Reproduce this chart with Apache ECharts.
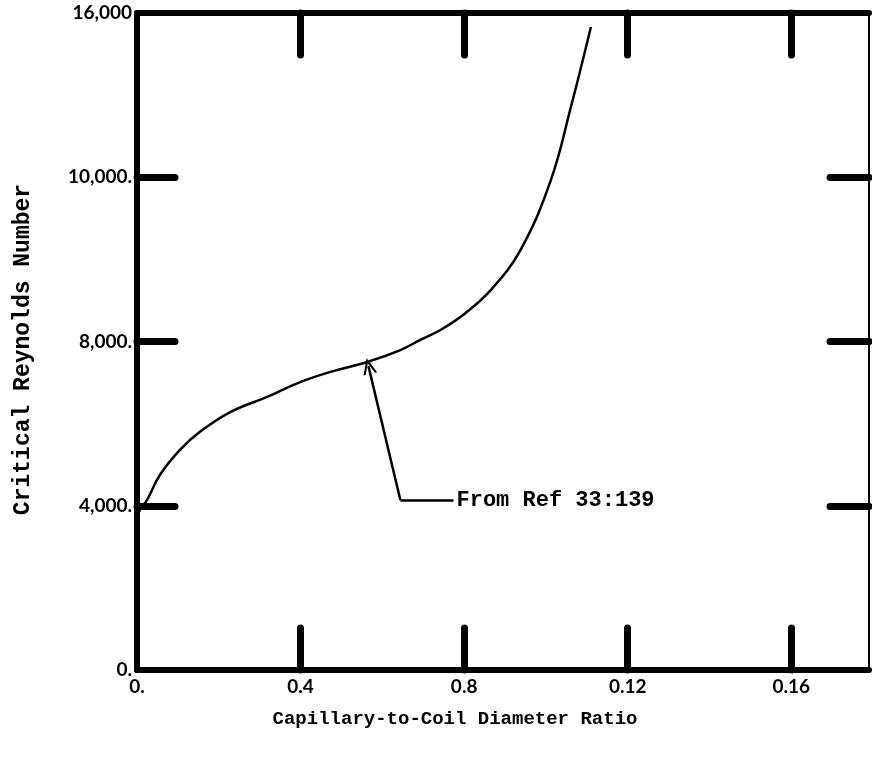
<!DOCTYPE html>
<html>
<head>
<meta charset="utf-8">
<script src="https://cdn.jsdelivr.net/npm/echarts@6/dist/echarts.min.js"></script>
<style>
html,body{margin:0;padding:0;background:#fff;}
#chart{width:872px;height:757px;}
</style>
</head>
<body>
<div id="chart"></div>
<script>
// Curve values (x = diameter ratio, y = position on the evenly spaced Reynolds scale)
var ratio = [0, 0.0005, 0.00245, 0.0056, 0.0105, 0.0154, 0.0228, 0.0318, 0.0399, 0.0473, 0.0563, 0.0644, 0.0693, 0.0742, 0.0798, 0.0865, 0.0938, 0.1012, 0.1061, 0.1110];
var reynolds = [3400, 3850, 4140, 4750, 5360, 5800, 6280, 6650, 7010, 7260, 7500, 7790, 8040, 8280, 8650, 9250, 10230, 11930, 13710, 15660];
// Tick positions and tick labels exactly as printed on the original (evenly spaced ticks)
var yTicks = [0, 4000, 8000, 12000, 16000];
var yTickLabels = ['0.', '4,000.', '8,000.', '10,000.', '16,000'];
var xTicks = [0, 0.04, 0.08, 0.12, 0.16];
var xTickLabels = ['0.', '0.4', '0.8', '0.12', '0.16'];
// Annotation: arrow tip on the curve, elbow, end of leader
var arrowTip = [0.0566, 7400];
var arrowElbow = [0.0644, 4140];
var leaderEnd = [0.0774, 4140];
var annotationText = 'From Ref 33:139';

var chart = echarts.init(document.getElementById('chart'), null, {renderer: 'canvas'});
var labelFont = {color: '#000', fontFamily: 'Lato', fontWeight: 'bold', fontSize: 19};
var mono = '"Liberation Mono", "DejaVu Sans Mono", monospace';
var tickStyle = {color: '#000', width: 7, cap: 'round'};

var curve = ratio.map(function (x, i) { return [x, reynolds[i]]; });
var xInnerTicks = xTicks.slice(1);
var yInnerTicks = yTicks.slice(1, yTicks.length - 1);

chart.setOption({
  animation: false,
  backgroundColor: '#fff',
  grid: {left: 137, right: 3, top: 13, bottom: 87, containLabel: false, outerBoundsMode: 'none'},
  xAxis: [{
    type: 'value', min: 0, max: 0.179, interval: 0.04, position: 'bottom',
    name: 'Capillary-to-Coil Diameter Ratio', nameLocation: 'middle', nameGap: 40,
    nameTextStyle: {fontFamily: mono, fontWeight: 'bold', fontSize: 19, color: '#000', padding: [0, 96, 0, 0]},
    axisLine: {onZero: false, lineStyle: {color: '#000', width: 6}},
    axisTick: {inside: true, length: 42, customValues: xInnerTicks, lineStyle: tickStyle},
    axisLabel: Object.assign({margin: 7, customValues: xTicks, formatter: function (v) {
      return xTickLabels[Math.round(v / 0.04)] || '';
    }}, labelFont),
    splitLine: {show: false}
  }, {
    type: 'value', min: 0, max: 0.179, interval: 0.04, position: 'top',
    axisLine: {onZero: false, lineStyle: {color: '#000', width: 6}},
    axisTick: {inside: true, length: 42, customValues: xInnerTicks, lineStyle: tickStyle},
    axisLabel: {show: false}, splitLine: {show: false}
  }],
  yAxis: [{
    type: 'value', min: 0, max: 16000, interval: 4000, position: 'left',
    name: 'Critical Reynolds Number', nameLocation: 'middle', nameGap: 102, nameRotate: 90,
    nameTextStyle: {fontFamily: mono, fontWeight: 'bold', fontSize: 23, color: '#000', padding: [0, 16, 0, 0]},
    axisLine: {onZero: false, lineStyle: {color: '#000', width: 6}},
    axisTick: {inside: true, length: 38, customValues: yInnerTicks, lineStyle: tickStyle},
    axisLabel: Object.assign({margin: 5, customValues: yTicks, formatter: function (v) {
      return yTickLabels[Math.round(v / 4000)] || '';
    }}, labelFont),
    splitLine: {show: false}
  }, {
    type: 'value', min: 0, max: 16000, interval: 4000, position: 'right',
    axisLine: {show: true, onZero: false, lineStyle: {color: '#000', width: 2}},
    axisTick: {inside: true, length: 39, customValues: yInnerTicks, lineStyle: tickStyle},
    axisLabel: {show: false}, splitLine: {show: false}
  }],
  series: [{
    type: 'line',
    data: curve,
    smooth: 0.4,
    showSymbol: false,
    lineStyle: {color: '#000', width: 2.5},
    markLine: {
      silent: true,
      symbol: ['none', 'none'],
      lineStyle: {color: '#000', width: 2.5, type: 'solid'},
      label: {show: false},
      data: [
        [{coord: arrowElbow, symbol: 'none'}, {coord: arrowTip, symbol: 'path://M0,10 L5,0 L10,10 L8.4,10 L5,3.2 L1.6,10 Z', symbolSize: [14, 16]}],
        [{coord: arrowElbow}, {coord: leaderEnd,
          label: {show: true, position: 'end', formatter: annotationText, distance: 3,
                  fontFamily: mono, fontWeight: 'bold', fontSize: 22, color: '#000'}}]
      ]
    }
  }]
});
</script>
</body>
</html>
